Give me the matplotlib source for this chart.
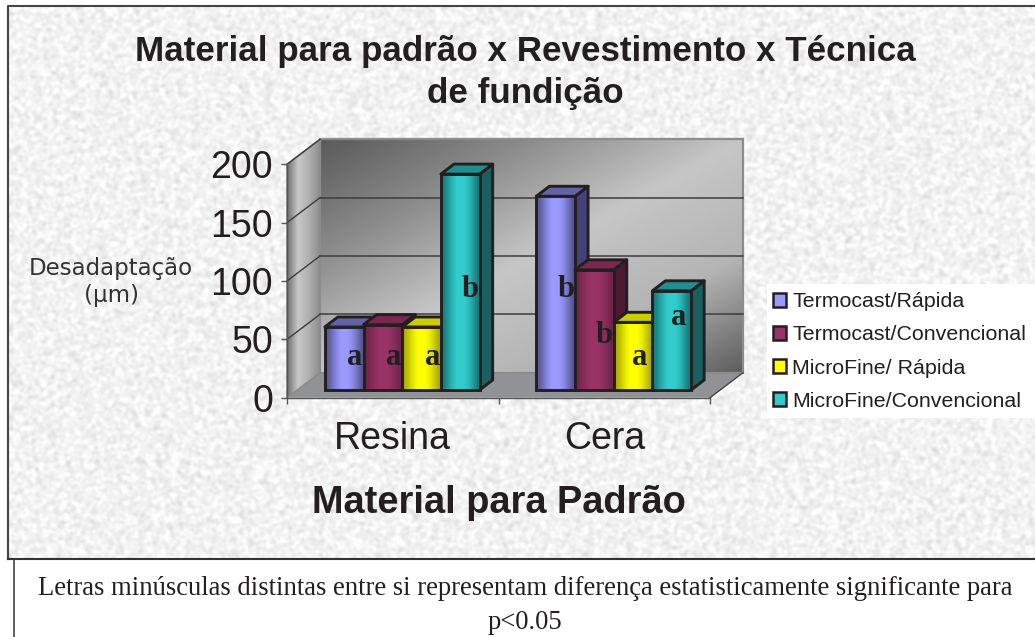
import numpy as np
import matplotlib
matplotlib.use('Agg')
import matplotlib.pyplot as plt
from matplotlib.colors import LinearSegmentedColormap
from matplotlib.patches import Patch, Polygon, Rectangle
from matplotlib.transforms import Affine2D, IdentityTransform

categories = ['Resina', 'Cera']
series_names = ['Termocast/Rápida', 'Termocast/Convencional', 'MicroFine/ Rápida', 'MicroFine/Convencional']
termocast_rapida = [54, 166]
termocast_convencional = [56, 103]
microfine_rapida = [54, 58]
microfine_convencional = [185, 85]
series_values = [termocast_rapida, termocast_convencional, microfine_rapida, microfine_convencional]
letters = [['a', 'b'], ['a', 'b'], ['a', 'a'], ['b', 'a']]
letter_heights = [[28, 86], [28, 47], [28, 28], [86, 62]]
y_ticks = [0, 50, 100, 150, 200]

title = 'Material para padrão x Revestimento x Técnica\nde fundição'
x_title = 'Material para Padrão'
y_title = 'Desadaptação\n(µm)'
note = 'Letras minúsculas distintas entre si representam diferença estatisticamente significante para\np<0.05'

# base, gradient edge, side face, top face
colors = [('#9999ff', '#55558f', '#43437a', '#6262a8'),
          ('#993366', '#6e2449', '#4d1a33', '#7a2850'),
          ('#ffff00', '#a8a800', '#808000', '#cccc00'),
          ('#33cccc', '#157a7a', '#1a6060', '#1f9090')]
INK = '#231f20'


def paper_texture(h, w):
    # deterministic speckle, then band-pass it so it looks like mottled paper
    yy, xx = np.mgrid[0:h, 0:w]
    raw = np.sin(xx * 12.9898 + yy * 78.233) * 43758.5453
    raw = raw - np.floor(raw) - 0.5
    fy = np.fft.fftfreq(h)[:, None]
    fx = np.fft.fftfreq(w)[None, :]
    r2 = fx ** 2 + fy ** 2
    band = np.exp(-r2 * 2 * (np.pi * 1.6) ** 2) - 0.6 * np.exp(-r2 * 2 * (np.pi * 7) ** 2)
    tex = np.fft.ifft2(np.fft.fft2(raw) * band).real
    tex = tex / tex.std()
    return np.clip(0.948 + tex * 0.024, 0.76, 0.99)


W, H = 1035, 637
fig = plt.figure(figsize=(W / 100, H / 100), dpi=100)
fig.patch.set_facecolor('white')

# page layer in pixel coordinates
bg = fig.add_axes([0, 0, 1, 1], zorder=0)
bg.set_xlim(0, W)
bg.set_ylim(H, 0)
bg.axis('off')
bg.imshow(paper_texture(H, W), cmap='gray', vmin=0, vmax=1, extent=(0, W, H, 0), aspect='auto')
bg.add_patch(Rectangle((0, 0), 8, H, fc='white', ec='none'))
bg.add_patch(Rectangle((0, 0), W, 6, fc='white', ec='none'))
bg.plot([8, 8, W], [559, 6, 6], color='#444444', lw=1.5)
bg.add_patch(Rectangle((0, 559), W, H - 559, fc='white', ec='none'))
bg.plot([14, 14], [H, 559], color='#444444', lw=1.2)
bg.plot([8, W], [559, 559], color='#333333', lw=1.5)
bg.add_patch(Rectangle((767, 284), W - 767, 134, fc='white', ec='none'))
bg.text(525, 605.5, note, family='Liberation Serif', fontsize=19.2, color=INK, ha='center', va='center',
        linespacing=1.45)

# front plane of the 3d box
px_left, px_right, px_base, px_top = 287, 710, 397.7, 164.3
ax = fig.add_axes([px_left / W, 1 - px_base / H, (px_right - px_left) / W, (px_base - px_top) / H], zorder=1)
ax.patch.set_alpha(0)
ax.set_xlim(0, 2)
ax.set_ylim(0, 200)
unit_x = (px_right - px_left) / 2
unit_y = (px_base - px_top) / 200

back = ax.transData + Affine2D().translate(33, 25)
plane = ax.transData + Affine2D().translate(9.5, 7.7)
wall_dx = 33 / unit_x
wall_dy = 25 / unit_y
bar_dx = 13 / unit_x
bar_dy = 10 / unit_y
bar_w = 38.7 / unit_x

# back wall
gx, gy = np.meshgrid(np.linspace(0, 1, 200), np.linspace(0, 1, 200))
wall_cmap = LinearSegmentedColormap.from_list('wall', ['#5a5a5a', '#8c8c8c', '#c6c6c6', '#b4b4b4', '#5e5e5e'])
ax.imshow((gx + gy) / 2, cmap=wall_cmap, vmin=0, vmax=1, extent=(0, 2, 0, 200), aspect='auto',
          transform=back, zorder=1).set_clip_box(fig.bbox)
ax.add_patch(Rectangle((0, 0), 2, 200, fc='none', ec='#8c8c8c', lw=1.6, transform=back, zorder=1.2, clip_on=False))

# side wall
side_pts = [(0, 0), (wall_dx, wall_dy), (wall_dx, 200 + wall_dy), (0, 200)]
side_cmap = LinearSegmentedColormap.from_list('side', ['#6e6e6e', '#c8c8c8', '#b0b0b0', '#8e8e8e'])
side_clip = Polygon(side_pts, transform=ax.transData, fc='none', ec='none')
ax.add_patch(side_clip)
side_im = ax.imshow(np.linspace(0, 1, 100)[None, :], cmap=side_cmap, extent=(0, wall_dx, 0, 200 + wall_dy),
                    aspect='auto', zorder=1)
side_im.set_clip_box(fig.bbox)
side_im.set_clip_path(side_clip)
ax.add_patch(Polygon(side_pts, fc='none', ec='#8c8c8c', lw=1.2, zorder=1.2, clip_on=False))

# floor
ax.add_patch(Polygon([(0, 0), (2, 0), (2 + wall_dx, wall_dy), (wall_dx, wall_dy)], fc='#909295', ec='none',
                     zorder=1.1, clip_on=False))
ax.plot([2, 2 + wall_dx], [0, wall_dy], color='#444444', lw=1, zorder=1.3, clip_on=False)

# gridlines on back and side walls
for v in y_ticks[1:-1]:
    ax.plot([0, 2], [v, v], color='#3c3c3c', lw=1.1, transform=back, zorder=1.3, clip_on=False)
for v in y_ticks[1:]:
    ax.plot([0, wall_dx], [v, v + wall_dy], color='#3c3c3c', lw=1, zorder=1.3, clip_on=False)

# bars
grad = np.array([[0, 0.25, 0.55, 0.8, 1, 1, 1, 0.85, 0.6, 0.3, 0]])
for k, (vals, (base, edge, side, top)) in enumerate(zip(series_values, colors)):
    z = 5 + k
    cmap = LinearSegmentedColormap.from_list('bar%d' % k, [edge, base])
    lefts = [c + 0.5 + (k - 2) * bar_w for c in range(len(categories))]
    for x0, v, letter, lh in zip(lefts, vals, letters[k], letter_heights[k]):
        x1 = x0 + bar_w
        ax.add_patch(Polygon([(x1, 0), (x1 + bar_dx, bar_dy), (x1 + bar_dx, v + bar_dy), (x1, v)], fc=side,
                             ec=INK, lw=2.1, joinstyle='round', transform=plane, zorder=z, clip_on=False))
        ax.add_patch(Polygon([(x0, v), (x1, v), (x1 + bar_dx, v + bar_dy), (x0 + bar_dx, v + bar_dy)], fc=top,
                             ec=INK, lw=2.1, joinstyle='round', transform=plane, zorder=z, clip_on=False))
        rect = ax.bar(x0, v, bar_w, align='edge', color=base, transform=plane, zorder=z, clip_on=False)[0]
        im = ax.imshow(grad, cmap=cmap, vmin=0, vmax=1, extent=(x0, x1, 0, v), aspect='auto', interpolation='bilinear',
                       transform=plane, zorder=z + 0.1)
        im.set_clip_box(fig.bbox)
        ax.bar(x0, v, bar_w, align='edge', color='none', edgecolor=INK, lw=2.1, transform=plane, zorder=z + 0.2,
               clip_on=False)
        pad = 5 if letter == 'a' and v > 57 and k >= 2 else 1
        ax.annotate(letter, xy=(x1, lh), xycoords=plane, xytext=(-pad, 0), textcoords='offset pixels',
                    family='Liberation Serif', weight='bold', fontsize=22, color=INK, ha='right', va='center',
                    zorder=30)

# axes
for s in ['top', 'right']:
    ax.spines[s].set_visible(False)
for s in ['left', 'bottom']:
    ax.spines[s].set_color('#555555')
    ax.spines[s].set_linewidth(1)
    ax.spines[s].set_zorder(2)
ax.set_yticks(y_ticks)
ax.tick_params(axis='y', labelsize=27, length=4, width=1, color='#555555', pad=6, labelcolor=INK)
ax.set_xticks([0, 1, 2])
ax.set_xticklabels([])
ax.tick_params(axis='x', which='major', length=4, width=1, color='#555555')
ax.set_xticks([0.5, 1.5], minor=True)
ax.set_xticklabels(categories, minor=True)
ax.tick_params(axis='x', which='minor', length=0, labelsize=27, pad=17, labelcolor=INK)
for t in ax.get_xticklabels(minor=True) + ax.get_yticklabels():
    t.set_family('Liberation Sans')

ax.set_xlabel(x_title, family='Liberation Sans', weight='bold', fontsize=27.4, color=INK, labelpad=20)
ax.set_ylabel(y_title, family='DejaVu Sans', fontsize=16.5, color='#333333', rotation=0, ha='center', va='center',
              linespacing=1.2)
ax.yaxis.set_label_coords((111 - px_left) / (px_right - px_left), (px_base - 282) / (px_base - px_top))
ax.set_title(title, family='Liberation Sans', weight='bold', fontsize=25.2, color=INK,
             x=(525 - px_left) / (px_right - px_left), y=1.0, pad=44, linespacing=1.36)

# legend
handles = [Patch(fc=c[0], ec=INK, lw=1.8) for c in colors]
leg = ax.legend(handles, series_names, loc='center left', bbox_to_anchor=(773, H - 351.5),
                bbox_transform=IdentityTransform(), frameon=False, borderpad=0, borderaxespad=0,
                prop={'family': 'Liberation Sans', 'size': 15.4}, labelspacing=0.665, handlelength=0.62,
                handleheight=0.62, handletextpad=0.28, labelcolor=INK)
leg.set_zorder(40)

fig.savefig('out.png', dpi=100)
